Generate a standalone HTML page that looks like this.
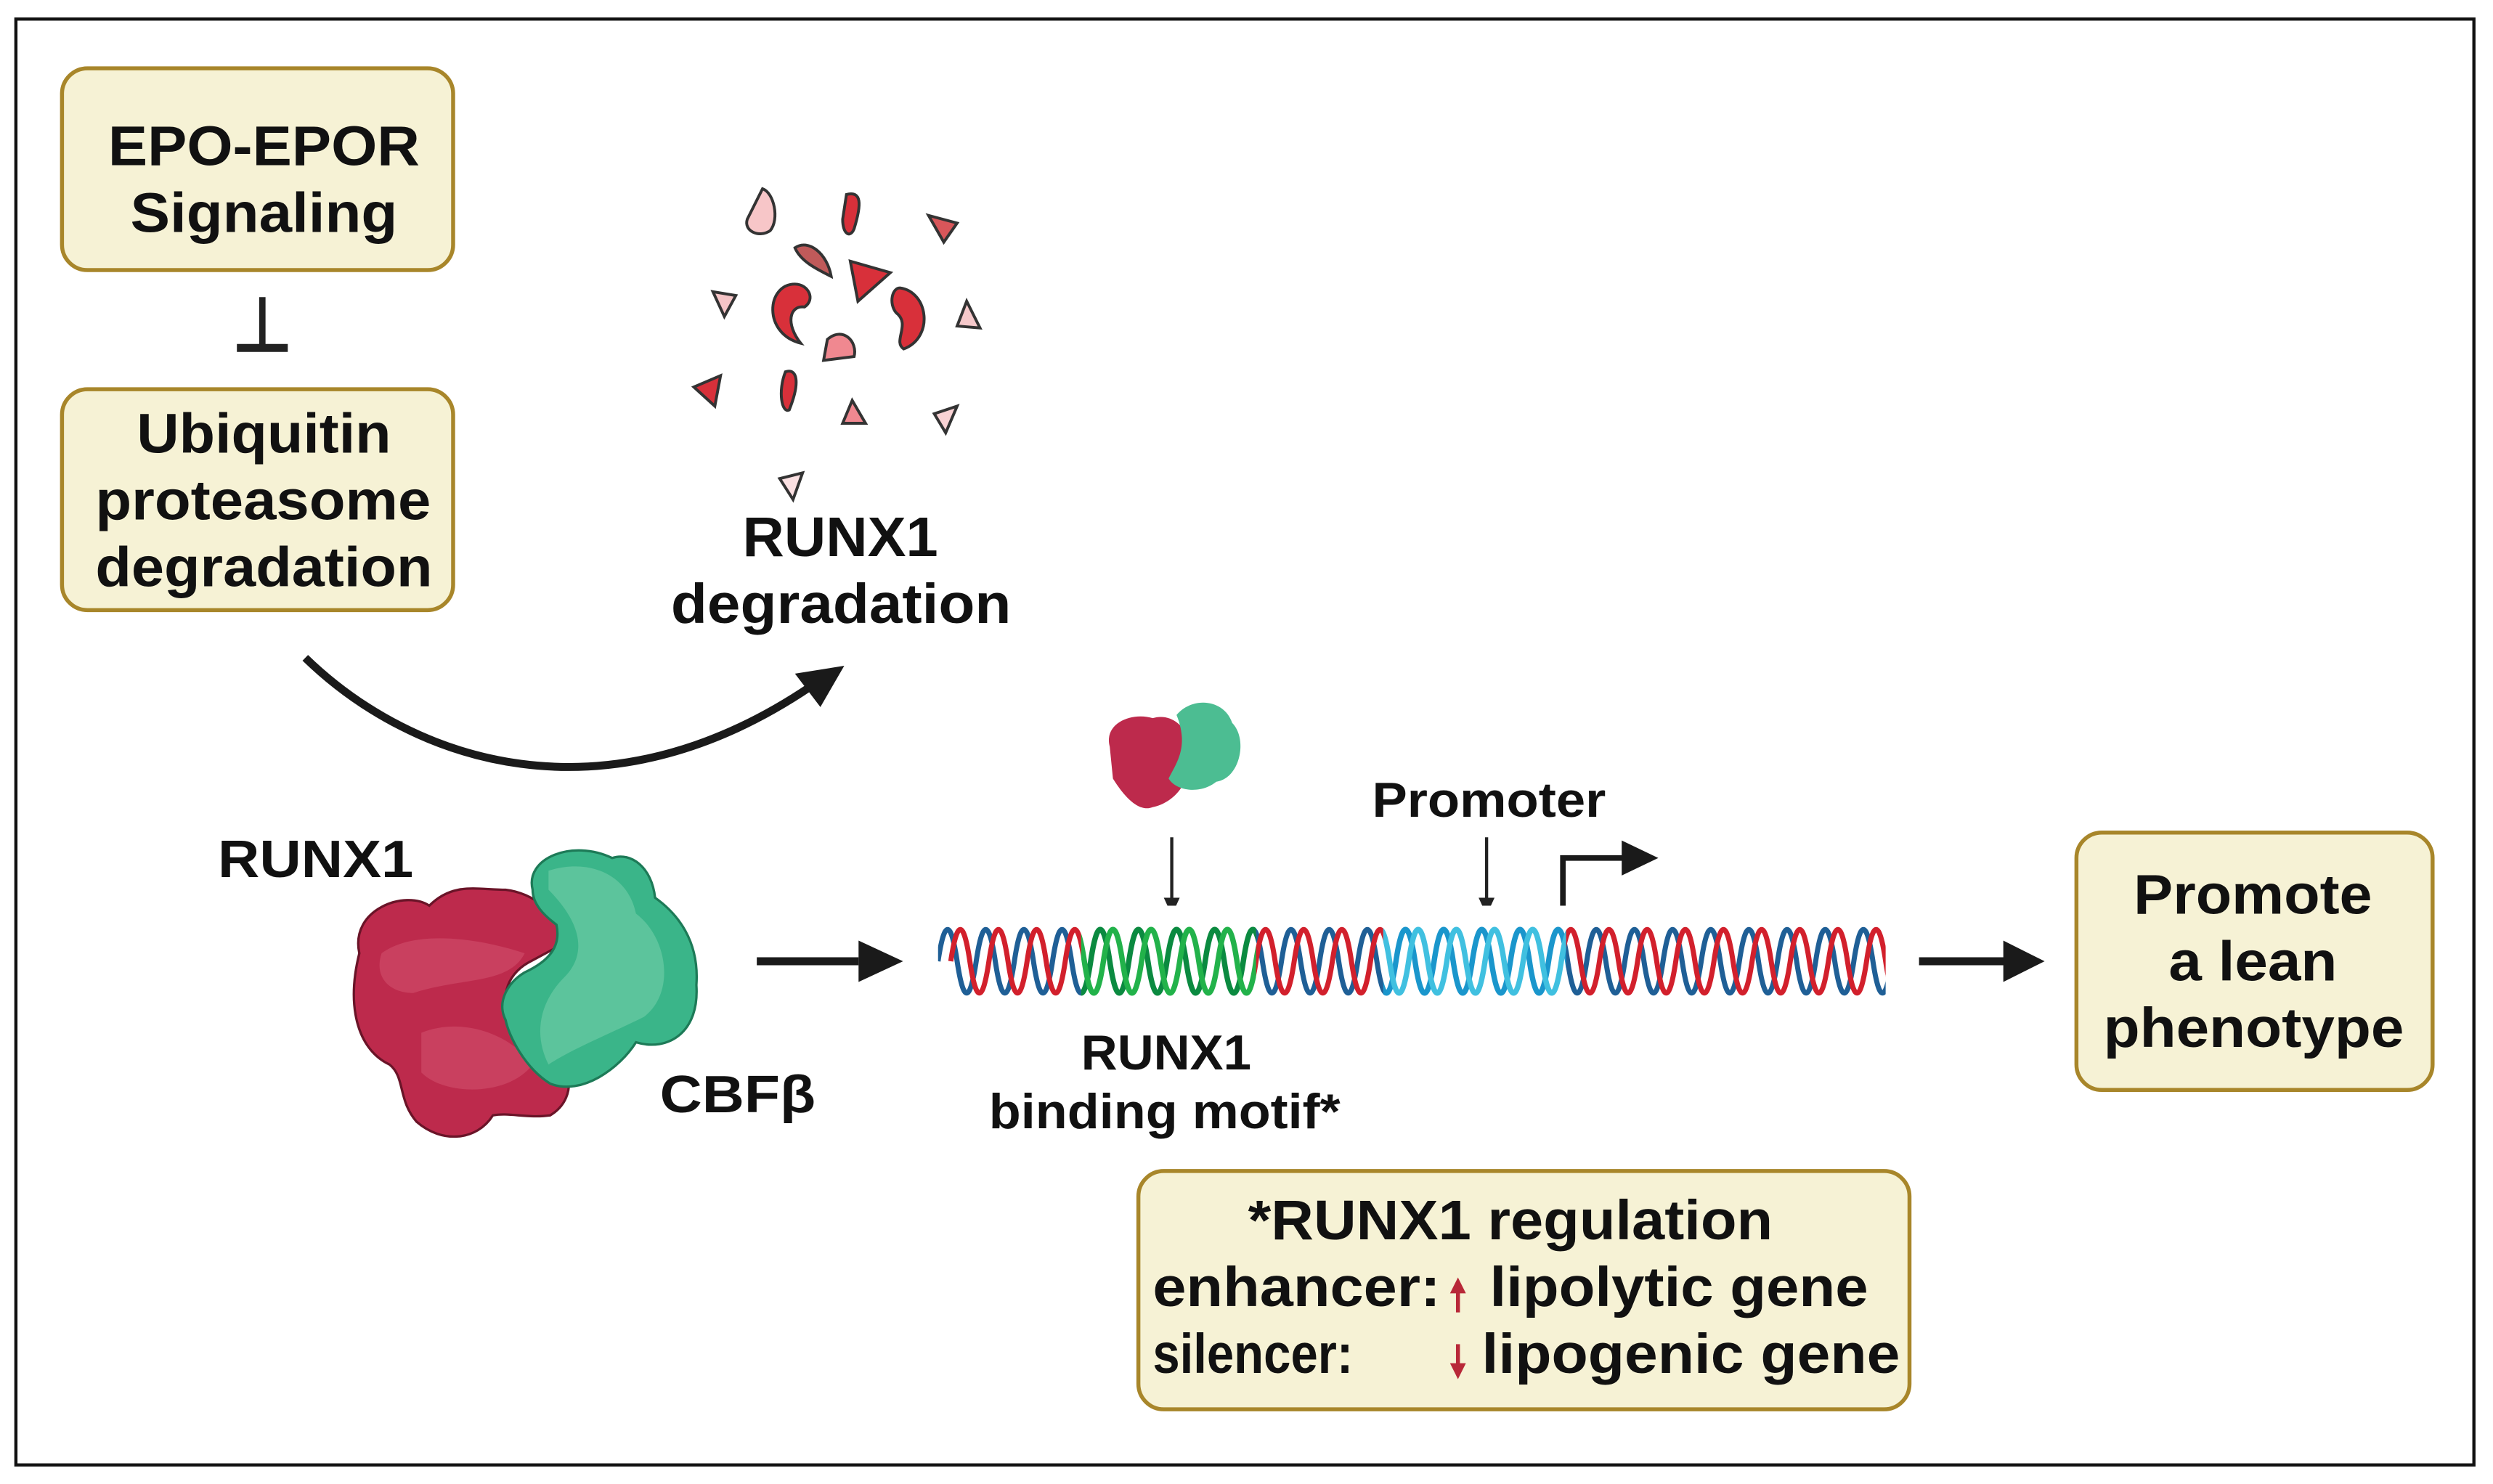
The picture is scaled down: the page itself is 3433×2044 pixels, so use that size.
<!DOCTYPE html>
<html><head><meta charset="utf-8"><style>
html,body{margin:0;padding:0;background:#fff;}
svg{display:block;}
text{font-family:"Liberation Sans",Arial,sans-serif;font-weight:bold;fill:#111;}
</style></head><body>
<svg width="3433" height="2044" viewBox="0 0 1568 934" preserveAspectRatio="none" xmlns="http://www.w3.org/2000/svg">
<defs>
<path id="w" d="M0,0 q6,-40 12,0 t12,0 t12,0 t12,0 t12,0 t12,0 t12,0 t12,0 t12,0 t12,0 t12,0 t12,0 t12,0 t12,0 t12,0 t12,0 t12,0 t12,0 t12,0 t12,0 t12,0 t12,0 t12,0 t12,0 t12,0 t12,0 t12,0 t12,0 t12,0 t12,0 t12,0 t12,0 t12,0 t12,0 t12,0 t12,0 t12,0 t12,0 t12,0 t12,0 t12,0 t12,0 t12,0 t12,0 t12,0 t12,0 t12,0 t12,0 t12,0 t12,0"/>
<clipPath id="dnaAll"><rect x="590" y="570" width="596" height="70"/></clipPath>
<clipPath id="gr"><rect x="680" y="570" width="110" height="70"/></clipPath>
<clipPath id="cy"><rect x="870" y="570" width="115" height="70"/></clipPath>
</defs>
<rect x="10" y="12" width="1546" height="910" fill="none" stroke="#111" stroke-width="2"/>

<!-- Box 1 -->
<rect x="39" y="43" width="246" height="127" rx="16" fill="#f6f2d5" stroke="#a8862a" stroke-width="2.5"/>
<text x="68" y="104" font-size="35" textLength="196" lengthAdjust="spacingAndGlyphs">EPO-EPOR</text>
<text x="82" y="146" font-size="35" textLength="168" lengthAdjust="spacingAndGlyphs">Signaling</text>
<line x1="165" y1="187" x2="165" y2="219" stroke="#222" stroke-width="4"/>
<line x1="149" y1="219" x2="181" y2="219" stroke="#222" stroke-width="5"/>
<!-- Box 2 -->
<rect x="39" y="245" width="246" height="139" rx="16" fill="#f6f2d5" stroke="#a8862a" stroke-width="2.5"/>
<text x="86" y="285" font-size="35" textLength="160" lengthAdjust="spacingAndGlyphs">Ubiquitin</text>
<text x="60" y="327" font-size="35" textLength="211" lengthAdjust="spacingAndGlyphs">proteasome</text>
<text x="60" y="369" font-size="35" textLength="212" lengthAdjust="spacingAndGlyphs">degradation</text>

<!-- fragments -->
<g stroke="#333" stroke-width="1.5" transform="translate(530,210) scale(1.2) translate(-530,-210)">
<path d="M488,134 C494,136 497,150 492,156 C486,160 478,156 480,150 Z" fill="#f7c6c8"/>
<path d="M532,137 C540,135 540,142 536,155 C534,160 530,158 530,150 Z" fill="#d8303a"/>
<path d="M575,148 L590,152 L583,162 Z" fill="#d8565a"/>
<path d="M505,165 C512,160 522,168 524,180 C516,176 508,172 505,165 Z" fill="#c05a5a"/>
<path d="M534,172 L555,178 L538,193 Z" fill="#d8303a"/>
<path d="M462,188 L474,190 L468,201 Z" fill="#f5c4c6"/>
<path d="M505,184 C490,184 488,210 508,215 C500,205 502,195 510,196 C516,192 512,184 505,184 Z" fill="#d8303a"/>
<path d="M560,186 C575,188 578,212 562,218 C556,214 566,205 558,199 C554,194 556,186 560,186 Z" fill="#d8303a"/>
<path d="M595,193 L602,207 L590,206 Z" fill="#f5c8ca"/>
<path d="M522,213 C530,206 538,214 536,222 L520,224 Z" fill="#f08890"/>
<path d="M452,238 L466,232 L463,248 Z" fill="#d8303a"/>
<path d="M500,230 C506,228 508,235 502,250 C498,252 496,240 500,230 Z" fill="#d8303a"/>
<path d="M535,245 L542,257 L530,257 Z" fill="#f08890"/>
<path d="M578,252 L590,248 L584,262 Z" fill="#f9d2d4"/>
<path d="M497,286 L509,283 L504,297 Z" fill="#fbe0e2"/>
</g>
<text x="467" y="350" font-size="35" textLength="123" lengthAdjust="spacingAndGlyphs">RUNX1</text>
<text x="422" y="392" font-size="35" textLength="214" lengthAdjust="spacingAndGlyphs">degradation</text>

<!-- curved arrow -->
<path d="M192,414 C260,480 380,520 510,432" fill="none" stroke="#1a1a1a" stroke-width="5"/>
<path d="M531,419 L500,424 L516,445 Z" fill="#1a1a1a"/>

<!-- big protein -->
<text x="137" y="552" font-size="33" textLength="123" lengthAdjust="spacingAndGlyphs">RUNX1</text>
<path d="M226,600 C220,572 255,560 270,570 C285,555 300,560 318,560 C335,562 352,575 358,592 L332,606 C318,614 314,630 322,642 L342,652 C358,664 366,690 346,702 C332,704 320,700 310,702 C300,718 278,720 262,706 C250,692 255,678 245,670 C224,660 218,632 226,600 Z" fill="#bd2a4c" stroke="#6a1428" stroke-width="1.5"/>
<path d="M240,600 C260,585 300,590 330,600 C320,620 290,615 260,625 C245,625 235,615 240,600 Z" fill="#c9405f"/>
<path d="M265,650 C290,640 320,650 335,670 C320,690 280,690 265,675 Z" fill="#c9405f"/>
<path d="M335,560 C330,540 360,528 385,540 C397,536 410,546 412,565 C426,575 440,592 438,620 C440,650 420,662 400,656 C390,672 366,690 346,682 C330,672 320,652 318,642 C312,630 320,618 330,612 C345,605 353,596 350,582 C342,576 335,569 335,560 Z" fill="#3ab589" stroke="#1d7a57" stroke-width="1.5"/>
<path d="M345,548 C370,540 395,550 400,575 C420,590 425,625 405,640 C385,650 360,660 345,670 C335,650 340,630 355,615 C370,600 365,580 345,560 Z" fill="#5cc49c"/>
<text x="415" y="700" font-size="33" textLength="98" lengthAdjust="spacingAndGlyphs">CBFβ</text>

<line x1="476" y1="605" x2="540" y2="605" stroke="#1a1a1a" stroke-width="5"/>
<path d="M568,605 L540,592 L540,618 Z" fill="#1a1a1a"/>

<!-- small protein -->
<path d="M698,470 C694,455 712,448 725,452 C738,448 750,460 748,475 C750,490 740,505 725,508 C715,512 705,498 700,490 Z" fill="#bd2a4c"/>
<path d="M740,450 C750,438 770,440 775,455 C785,465 780,490 765,492 C755,500 740,498 735,490 C740,480 748,470 740,450 Z" fill="#4cbd92"/>

<line x1="737" y1="527" x2="737" y2="568" stroke="#222" stroke-width="2"/>
<path d="M737,576 L732,565 L742,565 Z" fill="#222"/>
<line x1="935" y1="527" x2="935" y2="568" stroke="#222" stroke-width="2"/>
<path d="M935,576 L930,565 L940,565 Z" fill="#222"/>
<text x="863" y="514" font-size="31" textLength="147" lengthAdjust="spacingAndGlyphs">Promoter</text>
<path d="M983,592 L983,540 L1022,540" fill="none" stroke="#1a1a1a" stroke-width="3.5"/>
<path d="M1043,540 L1020,529 L1020,551 Z" fill="#1a1a1a"/>

<!-- DNA -->
<g clip-path="url(#dnaAll)" fill="none" stroke-width="3.2">
<use href="#w" x="590" y="605" stroke="#1f5f96"/>
<use href="#w" x="598" y="605" stroke="#d2202c"/>
</g>
<g clip-path="url(#gr)" fill="none" stroke-width="3.4">
<rect x="680" y="570" width="110" height="70" fill="#fff" stroke="none"/>
<use href="#w" x="590" y="605" stroke="#0b8a40"/>
<use href="#w" x="598" y="605" stroke="#22b24a"/>
</g>
<g clip-path="url(#cy)" fill="none" stroke-width="3.4">
<rect x="870" y="570" width="115" height="70" fill="#fff" stroke="none"/>
<use href="#w" x="590" y="605" stroke="#1a96cc"/>
<use href="#w" x="598" y="605" stroke="#40c0e0"/>
</g>

<text x="680" y="673" font-size="31" textLength="107" lengthAdjust="spacingAndGlyphs">RUNX1</text>
<text x="622" y="710" font-size="31" textLength="221" lengthAdjust="spacingAndGlyphs">binding motif*</text>

<line x1="1207" y1="605" x2="1262" y2="605" stroke="#1a1a1a" stroke-width="5"/>
<path d="M1286,605 L1260,592 L1260,618 Z" fill="#1a1a1a"/>

<!-- Box 3 -->
<rect x="1306" y="524" width="224" height="162" rx="16" fill="#f6f2d5" stroke="#a8862a" stroke-width="2.5"/>
<text x="1342" y="575" font-size="35" textLength="150" lengthAdjust="spacingAndGlyphs">Promote</text>
<text x="1364" y="617" font-size="35" textLength="106" lengthAdjust="spacingAndGlyphs">a lean</text>
<text x="1323" y="659" font-size="35" textLength="189" lengthAdjust="spacingAndGlyphs">phenotype</text>

<!-- Box 4 -->
<rect x="716" y="737" width="485" height="150" rx="16" fill="#f6f2d5" stroke="#a8862a" stroke-width="2.5"/>
<text x="785" y="780" font-size="35" textLength="330" lengthAdjust="spacingAndGlyphs">*RUNX1 regulation</text>
<text x="725" y="822" font-size="35" textLength="181" lengthAdjust="spacingAndGlyphs">enhancer:</text>
<line x1="917" y1="826" x2="917" y2="812" stroke="#b82838" stroke-width="2.5"/>
<path d="M917,804 L912,814 L922,814 Z" fill="#b82838"/>
<text x="937" y="822" font-size="35" textLength="238" lengthAdjust="spacingAndGlyphs">lipolytic gene</text>
<text x="725" y="864" font-size="35" textLength="126" lengthAdjust="spacingAndGlyphs">silencer:</text>
<line x1="917" y1="846" x2="917" y2="860" stroke="#b82838" stroke-width="2.5"/>
<path d="M917,868 L912,858 L922,858 Z" fill="#b82838"/>
<text x="932" y="864" font-size="35" textLength="263" lengthAdjust="spacingAndGlyphs">lipogenic gene</text>
</svg>
</body></html>
